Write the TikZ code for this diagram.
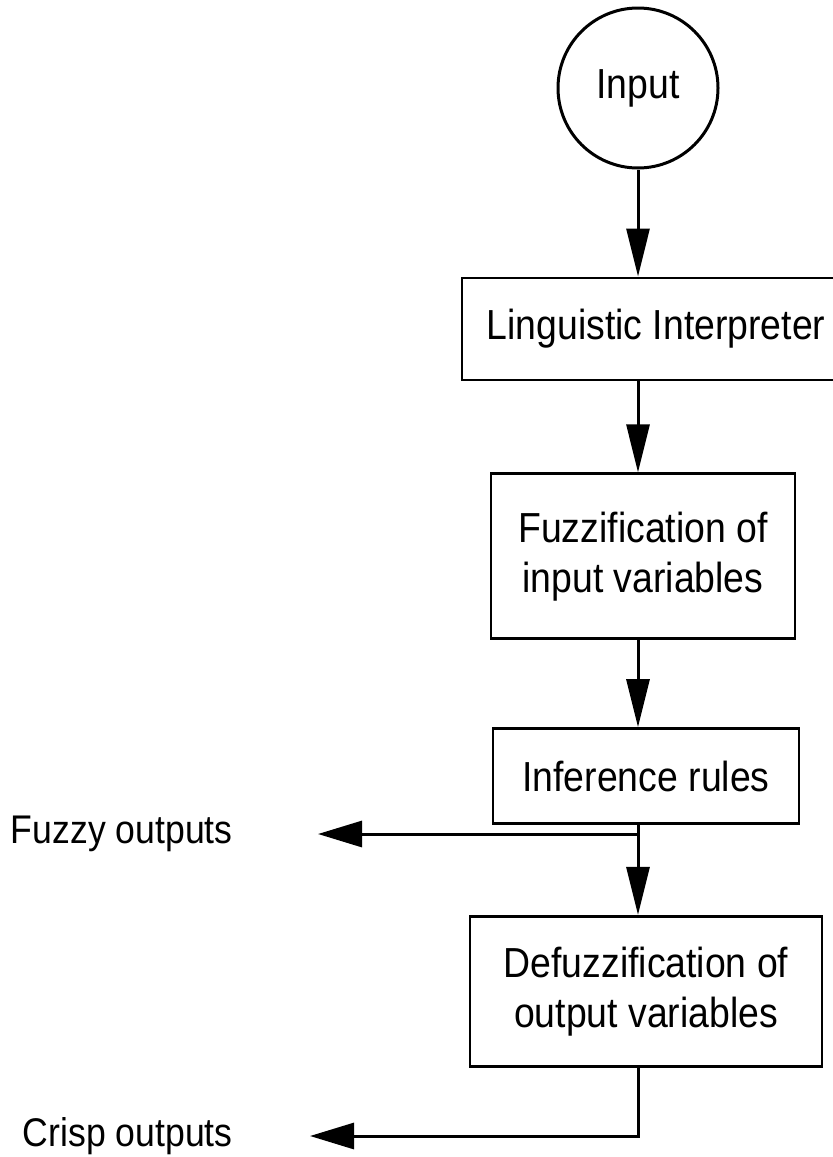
\documentclass[tikz,border=0pt]{standalone}
\usepackage{fontspec}
\setmainfont[FakeStretch=0.89]{Liberation Sans}
\usetikzlibrary{arrows.meta, positioning}

\begin{document}
\begin{tikzpicture}[x=0.5pt, y=-0.5pt, node distance=40pt]
    \tikzstyle{stage} = [draw, rectangle, line width=1.4pt, align=center, inner sep=0pt, font=\fontsize{21}{25}\selectfont]
    \tikzstyle{source} = [draw, circle, line width=1.5pt, minimum size=80pt, inner sep=0pt, font=\fontsize{21}{25}\selectfont]
    \tikzstyle{flow} = [draw, line width=1.5pt, -{Triangle[length=24pt, width=11.5pt]}]
    \tikzstyle{tap} = [draw, line width=1.5pt, -{Triangle[length=22pt, width=13pt]}]
    \tikzstyle{outlabel} = [anchor=east, inner sep=0pt, font=\fontsize{20}{24}\selectfont]

    \useasboundingbox (0,0) rectangle (832,1157);

    % Input and processing chain
    \node[source] (input) at (638,88) {Input};
    \node[stage, below=53.5pt of input, xshift=9pt, minimum width=194pt, minimum height=51pt] (ling) {Linguistic Interpreter};
    \node[stage, below=45.5pt of ling, xshift=-6.5pt, minimum width=152pt, minimum height=82.5pt] (fuzz) {Fuzzification of\\input variables};
    \node[stage, below=43.5pt of fuzz, xshift=1.5pt, minimum width=153pt, minimum height=47.5pt] (infer) {Inference rules};
    \node[stage, below=45pt of infer, minimum width=176pt, minimum height=75pt] (defuzz) {Defuzzification of\\output variables};

    % Outputs
    \coordinate (split) at (638,834);
    \coordinate (turn) at (638,1136);
    \node[outlabel] (fuzzy) at (233,834) {Fuzzy outputs};
    \node[outlabel] (crisp) at (233,1136) {Crisp outputs};

    % Main flow
    \draw[flow] (input.south) -- (input.south |- ling.north);
    \draw[flow] (input.south |- ling.south) -- (input.south |- fuzz.north);
    \draw[flow] (input.south |- fuzz.south) -- (input.south |- infer.north);
    \draw[flow] (input.south |- infer.south) -- (input.south |- defuzz.north);

    % Taps to the outputs
    \draw[tap] (split) -- ([xshift=42.5pt]fuzzy.east);
    \draw[tap] (input.south |- defuzz.south) -- (turn) -- ([xshift=38.5pt]crisp.east);
\end{tikzpicture}
\end{document}
